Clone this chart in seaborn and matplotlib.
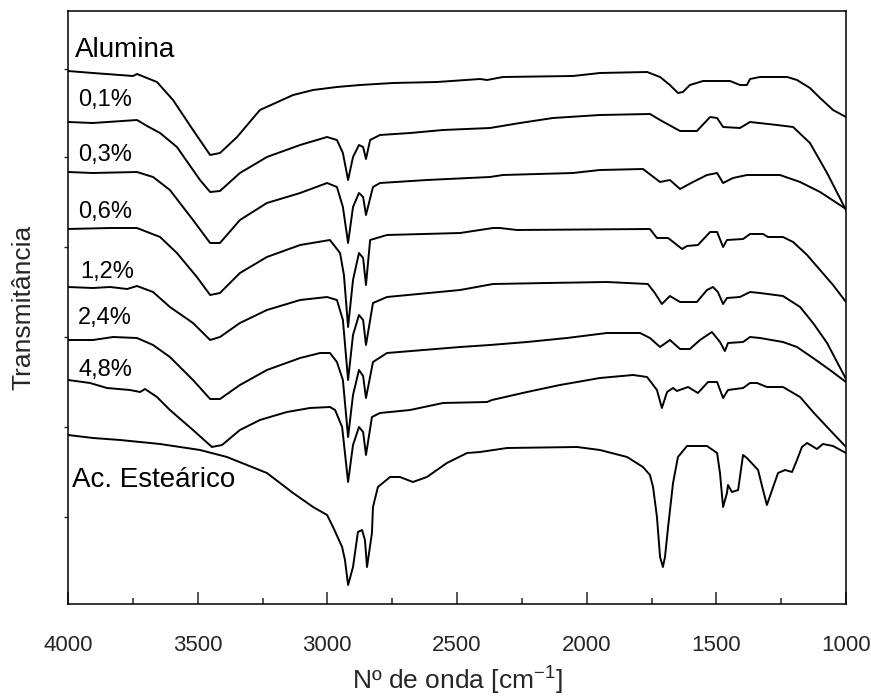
import matplotlib
matplotlib.use("Agg")
import matplotlib.pyplot as plt
import seaborn as sns
import pandas as pd

# FTIR spectra (wavenumber in cm-1, transmittance in arbitrary offset units)
alumina_wn = [4000, 3904, 3749, 3734, 3657, 3595, 3518, 3452, 3414, 3348, 3260, 3132, 3055,
              2963, 2874, 2747, 2577, 2411, 2384, 2323, 2053, 1949, 1767, 1717, 1679, 1648,
              1629, 1602, 1551, 1447, 1409, 1382, 1370, 1332, 1227, 1189, 1139, 1100, 1050, 1000]
alumina_t = [53.3, 53.1, 52.8, 53.0, 52.2, 50.4, 47.4, 44.9, 45.1, 46.7, 49.4, 50.9, 51.4,
             51.7, 51.9, 52.1, 52.2, 52.5, 52.4, 52.7, 52.8, 53.1, 53.2, 52.7, 51.9, 51.1,
             51.2, 51.9, 52.3, 52.3, 51.9, 51.9, 52.5, 52.7, 52.7, 52.4, 51.6, 50.6, 49.4, 48.7]

s01_wn = [4000, 3904, 3734, 3695, 3645, 3580, 3491, 3452, 3414, 3337, 3233, 3105, 3001, 2963,
          2940, 2920, 2901, 2878, 2862, 2851, 2835, 2797, 2681, 2554, 2373, 2257, 2130, 1949,
          1756, 1717, 1640, 1575, 1524, 1497, 1474, 1409, 1370, 1266, 1204, 1139, 1073, 1000]
s01_t = [48.2, 48.1, 48.4, 47.8, 47.1, 45.7, 42.4, 41.2, 41.3, 43.1, 44.7, 45.9, 46.7, 46.4,
         45.1, 42.4, 44.7, 45.9, 45.7, 44.5, 46.4, 46.9, 47.1, 47.4, 47.6, 48.1, 48.6, 48.9,
         49.0, 48.4, 47.3, 47.3, 48.7, 48.6, 47.7, 47.6, 48.2, 47.9, 47.7, 46.1, 43.1, 39.4]

s03_wn = [4000, 3904, 3734, 3672, 3607, 3518, 3452, 3414, 3337, 3233, 3105, 3001, 2963, 2940,
          2920, 2901, 2878, 2862, 2851, 2824, 2797, 2616, 2373, 2323, 2053, 1949, 1783, 1717,
          1679, 1640, 1590, 1536, 1497, 1474, 1436, 1382, 1255, 1177, 1100, 1000]
s03_t = [43.2, 43.1, 43.2, 42.7, 41.4, 38.4, 36.1, 36.1, 38.4, 40.1, 41.1, 42.1, 41.7, 39.7,
         36.1, 39.7, 41.1, 40.7, 38.9, 41.7, 42.1, 42.4, 42.7, 42.9, 43.1, 43.4, 43.5, 42.2,
         42.4, 41.5, 42.2, 42.9, 43.1, 42.1, 42.6, 42.9, 42.9, 42.2, 41.2, 39.5]

s06_wn = [4000, 3838, 3734, 3645, 3580, 3503, 3452, 3414, 3337, 3233, 3105, 2990, 2951, 2936,
          2920, 2901, 2878, 2862, 2851, 2835, 2770, 2488, 2361, 2334, 2269, 1756, 1729, 1686,
          1632, 1613, 1571, 1524, 1497, 1474, 1459, 1397, 1370, 1320, 1301, 1243, 1204, 1150,
          1100, 1050, 1000]
s06_t = [37.5, 37.6, 37.6, 36.7, 35.1, 32.7, 30.9, 31.1, 33.1, 34.7, 35.9, 36.4, 35.1, 32.9,
         27.7, 32.4, 35.1, 34.6, 31.9, 36.4, 36.9, 37.1, 37.6, 37.6, 37.4, 37.5, 36.6, 36.6,
         35.5, 35.8, 35.9, 37.2, 37.2, 35.7, 36.4, 36.5, 37.0, 37.0, 36.7, 36.7, 36.2, 34.9,
         33.4, 31.9, 30.2]

s12_wn = [4000, 3904, 3838, 3772, 3734, 3672, 3607, 3518, 3452, 3414, 3337, 3233, 3105, 3001,
          2963, 2940, 2920, 2901, 2878, 2862, 2851, 2824, 2770, 2488, 2361, 2153, 1922, 1764,
          1737, 1710, 1679, 1640, 1575, 1536, 1513, 1494, 1474, 1459, 1409, 1370, 1332, 1243,
          1177, 1127, 1073, 1000]
s12_t = [31.7, 31.6, 31.7, 31.5, 31.8, 31.2, 29.7, 28.1, 26.4, 26.7, 28.1, 29.4, 30.4, 30.7,
         30.4, 28.4, 22.4, 26.9, 28.9, 28.4, 25.9, 30.1, 30.7, 31.4, 32.0, 32.1, 32.2, 32.0,
         31.1, 30.0, 30.8, 30.2, 30.2, 31.4, 31.7, 31.2, 30.0, 30.6, 30.7, 31.2, 31.1, 30.8,
         29.7, 28.1, 26.1, 22.5]

s24_wn = [4000, 3904, 3826, 3734, 3672, 3607, 3518, 3452, 3414, 3337, 3233, 3105, 3028, 2990,
          2963, 2940, 2920, 2901, 2878, 2862, 2851, 2824, 2770, 2488, 2373, 2230, 2076, 1922,
          1794, 1756, 1717, 1679, 1640, 1602, 1563, 1517, 1486, 1467, 1455, 1397, 1370, 1332,
          1243, 1189, 1127, 1062, 1000]
s24_t = [26.4, 26.4, 26.7, 26.6, 25.9, 24.7, 22.4, 20.5, 20.5, 21.9, 23.4, 24.6, 25.1, 25.1,
         24.2, 22.4, 16.7, 20.9, 23.4, 22.8, 20.6, 24.2, 25.1, 25.7, 25.9, 26.2, 26.6, 27.1,
         27.1, 26.6, 25.7, 26.4, 25.5, 25.5, 26.4, 27.2, 26.2, 25.3, 26.1, 26.2, 26.7, 26.6,
         26.2, 25.7, 24.6, 23.4, 22.2]

s48_wn = [4000, 3915, 3850, 3761, 3722, 3703, 3657, 3607, 3518, 3445, 3406, 3337, 3260, 3156,
          3067, 2990, 2970, 2943, 2920, 2901, 2878, 2862, 2851, 2828, 2797, 2681, 2554, 2384,
          2365, 2230, 2103, 1949, 1821, 1767, 1729, 1710, 1690, 1667, 1652, 1609, 1571, 1532,
          1497, 1474, 1455, 1397, 1370, 1343, 1305, 1243, 1177, 1127, 1062, 1000]
s48_t = [22.4, 22.1, 21.6, 21.4, 21.2, 21.5, 20.7, 19.4, 17.4, 15.7, 15.9, 17.4, 18.4, 19.2,
         19.6, 19.7, 19.4, 17.7, 12.2, 15.9, 17.7, 17.2, 14.9, 18.7, 19.1, 19.4, 20.1, 20.2,
         20.4, 21.2, 21.9, 22.6, 22.9, 22.7, 21.4, 19.6, 21.2, 21.6, 21.3, 21.7, 21.1, 22.2,
         22.2, 20.6, 21.4, 21.6, 22.1, 22.1, 21.7, 21.7, 20.7, 19.2, 17.4, 15.7]

stearic_wn = [4000, 3904, 3799, 3645, 3491, 3387, 3310, 3233, 3132, 3055, 3001, 2978, 2943,
              2932, 2920, 2901, 2882, 2866, 2855, 2847, 2828, 2824, 2805, 2758, 2720, 2670,
              2616, 2539, 2461, 2411, 2307, 2037, 1949, 1844, 1783, 1756, 1744, 1729, 1717,
              1706, 1698, 1686, 1667, 1648, 1613, 1536, 1497, 1486, 1474, 1459, 1455, 1440,
              1416, 1397, 1382, 1339, 1320, 1305, 1285, 1262, 1235, 1208, 1189, 1170, 1150,
              1112, 1089, 1050, 1000]
stearic_t = [16.9, 16.6, 16.4, 16.0, 15.4, 14.7, 13.9, 13.1, 11.1, 9.7, 8.9, 7.7, 5.7,
             4.4, 1.9, 3.7, 7.2, 7.4, 6.4, 3.7, 7.1, 9.7, 11.7, 12.7, 12.7, 12.2,
             12.7, 14.1, 15.1, 15.2, 15.6, 15.7, 15.4, 14.7, 13.7, 12.9, 11.7, 8.7, 4.7,
             3.7, 4.7, 7.7, 12.1, 14.7, 15.8, 15.8, 15.1, 13.1, 9.7, 11.1, 11.9, 11.2,
             11.4, 14.9, 14.6, 13.4, 11.4, 9.9, 11.4, 13.1, 13.4, 13.2, 14.4, 15.7, 16.1,
             15.5, 16.0, 15.8, 15.1]

sample_names = ["Alumina", "0,1%", "0,3%", "0,6%", "1,2%", "2,4%", "4,8%", "Ac. Esteárico"]
spectra = [(alumina_wn, alumina_t), (s01_wn, s01_t), (s03_wn, s03_t), (s06_wn, s06_t),
           (s12_wn, s12_t), (s24_wn, s24_t), (s48_wn, s48_t), (stearic_wn, stearic_t)]

# label anchor for each sample name (wavenumber, transmittance)
label_wn = [3973, 3961, 3961, 3961, 3954, 3961, 3961, 3985]
label_t = [55.4, 50.4, 44.9, 39.2, 33.2, 28.6, 23.4, 12.4]
label_size = [20, 17, 17, 17, 17, 17, 17, 20]

frames = []
for name, (wn, t) in zip(sample_names, spectra):
    frames.append(pd.DataFrame({"wn": wn, "t": t, "amostra": name}))
df = pd.concat(frames, ignore_index=True)

sns.set_style("ticks")
plt.rcParams["font.family"] = ["Liberation Sans", "DejaVu Sans"]
plt.rcParams["mathtext.default"] = "regular"

fig = plt.figure(figsize=(8.71, 6.96), dpi=100)
ax = fig.add_axes([68 / 871, 1 - 604 / 696, 778 / 871, 593 / 696])

sns.lineplot(data=df, x="wn", y="t", hue="amostra", units="amostra", estimator=None,
             sort=False, palette=["black"] * len(sample_names), linewidth=1.4,
             legend=False, ax=ax)

for name, x, y, fs in zip(sample_names, label_wn, label_t, label_size):
    ax.text(x, y, name, fontsize=fs, ha="left", va="center", color="black")

ax.set_xlim(4000, 1000)
ax.set_ylim(0, 59.3)
ax.set_xticks([4000, 3500, 3000, 2500, 2000, 1500, 1000])
ax.set_xticks([3750, 3250, 2750, 2250, 1750, 1250], minor=True)
ax.set_yticks([53.5, 44.7, 35.7, 26.7, 17.7, 8.7])
ax.set_yticklabels([])
ax.tick_params(axis="x", which="major", direction="in", length=9, width=1.1,
               labelsize=16, pad=22, top=False)
ax.tick_params(axis="x", which="minor", direction="in", length=4, width=1.1, top=False)
ax.tick_params(axis="y", direction="out", length=3, width=1.0, right=False)

for side in ["top", "right", "bottom", "left"]:
    ax.spines[side].set_visible(True)
    ax.spines[side].set_linewidth(1.1)
    ax.spines[side].set_color("black")

ax.set_xlabel("Nº de onda [cm$^{-1}$]", fontsize=19, labelpad=7)
ax.set_ylabel("Transmitância", fontsize=19, labelpad=17)

fig.savefig("out.png", dpi=100)
